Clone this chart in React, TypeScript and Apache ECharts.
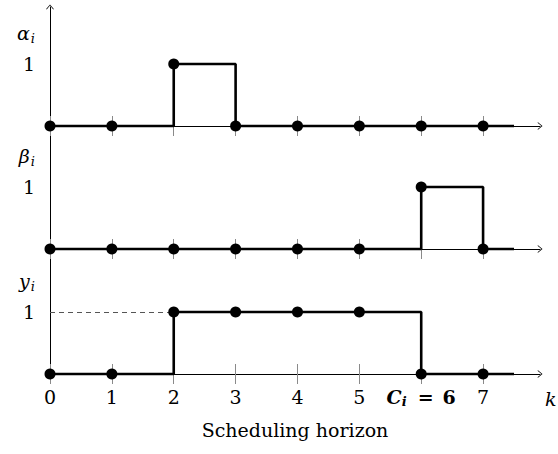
import React, { useEffect, useRef } from "react";
import * as echarts from "echarts";

// ---- data ----
const ks = [0, 1, 2, 3, 4, 5, 6, 7];
const alphaVals = [0, 0, 1, 0, 0, 0, 0, 0];
const betaVals = [0, 0, 0, 0, 0, 0, 1, 0];
const yVals = [0, 0, 1, 1, 1, 1, 0, 0];
const tailK = 7.5;
const xTickLabels = ["0", "1", "2", "3", "4", "5", "{cb|C}{cs|i}{eq|=}{eb|6}", "7"];
const rowLabels = ["{g|α}{s|i}", "{g|β}{s|i}", "{g|y}{s|i}"];
const yTickValues = [1, 1.5];
const yLevelGuide = [[0, 1], [2, 1]];
const xAxisName = "k";
const horizonName = "Scheduling horizon";

const FONT = "DejaVu Serif";
const ARROW = "path://M0,0 L6,7 L5.1,7.8 L0,1.7 L-5.1,7.8 L-6,7 Z";
const X_MAX = 7.92;

const rich: any = {
  g: { fontFamily: FONT, fontStyle: "italic", fontSize: 19, color: "#000", lineHeight: 22, verticalAlign: "middle" },
  s: { fontFamily: FONT, fontStyle: "italic", fontSize: 13, color: "#000", verticalAlign: "middle", lineHeight: 8, padding: [11, 0, 0, 1] },
  cb: { fontFamily: FONT, fontStyle: "italic", fontWeight: "bold", fontSize: 19, color: "#000", lineHeight: 22, verticalAlign: "middle" },
  cs: { fontFamily: FONT, fontStyle: "italic", fontWeight: "bold", fontSize: 13, color: "#000", verticalAlign: "middle", lineHeight: 8, padding: [9, 0, 0, 0] },
  eq: { fontFamily: FONT, fontWeight: "bold", fontSize: 19, color: "#000", lineHeight: 22, verticalAlign: "middle", padding: [0, 9, 0, 11] },
  eb: { fontFamily: FONT, fontWeight: "bold", fontSize: 19, color: "#000", lineHeight: 22, verticalAlign: "middle" },
};

const rows = [alphaVals, betaVals, yVals];
const grids = [
  { left: 50, right: 18, top: 7, height: 119 },
  { left: 50, right: 18, top: 125, height: 124 },
  { left: 50, right: 18, top: 250, height: 124 },
];
const yMax = [119 / 62, 2, 2];

function buildOption() {
  const xAxis: any[] = [];
  const yAxis: any[] = [];
  const series: any[] = [];
  rows.forEach((vals, i) => {
    const isBottom = i === 2;
    xAxis.push({
      type: "value",
      gridIndex: i,
      min: 0,
      max: X_MAX,
      interval: 1,
      position: "bottom",
      name: isBottom ? xAxisName : "",
      nameLocation: "end",
      nameGap: 5,
      nameTextStyle: {
        fontFamily: FONT,
        fontStyle: "italic",
        fontSize: 19,
        color: "#000",
        verticalAlign: "top",
        lineHeight: 50,
      },
      axisLine: {
        show: true,
        onZero: false,
        lineStyle: { color: "#000", width: 1 },
        symbol: ["none", ARROW],
        symbolSize: [9, 5],
      },
      axisTick: {
        show: true,
        length: 10,
        customValues: ks,
        lineStyle: { color: "#8a8a8a", width: 1 },
      },
      axisLabel: {
        show: isBottom,
        customValues: ks,
        margin: 12,
        fontFamily: FONT,
        fontSize: 19,
        lineHeight: 22,
        color: "#000",
        rich,
        formatter: (v: number) => {
          const idx = ks.indexOf(Math.round(v));
          return idx >= 0 ? xTickLabels[idx] : "";
        },
      },
      splitLine: { show: false },
    });
    yAxis.push({
      type: "value",
      gridIndex: i,
      min: 0,
      max: yMax[i],
      interval: 0.5,
      axisLine: {
        show: true,
        onZero: false,
        lineStyle: { color: "#000", width: 1 },
        symbol: i === 0 ? ["none", ARROW] : ["none", "none"],
        symbolSize: [9, 5],
      },
      axisTick: { show: false },
      splitLine: { show: false },
      axisLabel: {
        show: true,
        customValues: yTickValues,
        margin: 15,
        fontFamily: FONT,
        fontSize: 19,
        color: "#000",
        rich,
        formatter: (v: number) => (v === 1 ? "1" : v === 1.5 ? rowLabels[i] : ""),
      },
    });
    const data: any[] = ks.map((k, j) => [k, vals[j]]);
    data.push({ value: [tailK, vals[vals.length - 1]], symbol: "none" });
    const s: any = {
      type: "line",
      xAxisIndex: i,
      yAxisIndex: i,
      step: "end",
      data,
      clip: false,
      symbol: "circle",
      symbolSize: 11,
      showSymbol: true,
      showAllSymbol: true,
      lineStyle: { color: "#000", width: 2.6 },
      itemStyle: { color: "#000" },
      emphasis: { disabled: true },
      z: 5,
    };
    if (isBottom) {
      s.markLine = {
        silent: true,
        symbol: ["none", "none"],
        label: { show: false },
        lineStyle: { type: [5, 4], color: "#555", width: 1 },
        emphasis: { disabled: true },
        data: [[{ coord: yLevelGuide[0] }, { coord: yLevelGuide[1] }]],
      };
    }
    series.push(s);
  });
  // inner tick axes (ticks above baseline)
  rows.forEach((_, i) => {
    const isBottom = i === 2;
    xAxis.push({
      type: "value",
      gridIndex: i,
      min: 0,
      max: X_MAX,
      interval: 1,
      position: "bottom",
      name: isBottom ? horizonName : "",
      nameLocation: "middle",
      nameGap: 46,
      nameTextStyle: { fontFamily: FONT, fontSize: 19, color: "#000" },
      axisLine: { show: false, onZero: false },
      axisTick: {
        show: true,
        inside: true,
        length: 10,
        customValues: ks,
        lineStyle: { color: "#8a8a8a", width: 1 },
      },
      axisLabel: { show: false },
      splitLine: { show: false },
    });
  });
  return {
    animation: false,
    backgroundColor: "#fff",
    grid: grids,
    xAxis,
    yAxis,
    series,
  };
}

export default function App() {
  const ref = useRef<HTMLDivElement>(null);
  useEffect(() => {
    const chart = echarts.init(ref.current!, null, { renderer: "svg" });
    chart.setOption(buildOption() as any);
    return () => chart.dispose();
  }, []);
  return (
    <div
      ref={ref}
      style={{ position: "fixed", left: 0, top: 0, width: 558, height: 454 }}
    />
  );
}
